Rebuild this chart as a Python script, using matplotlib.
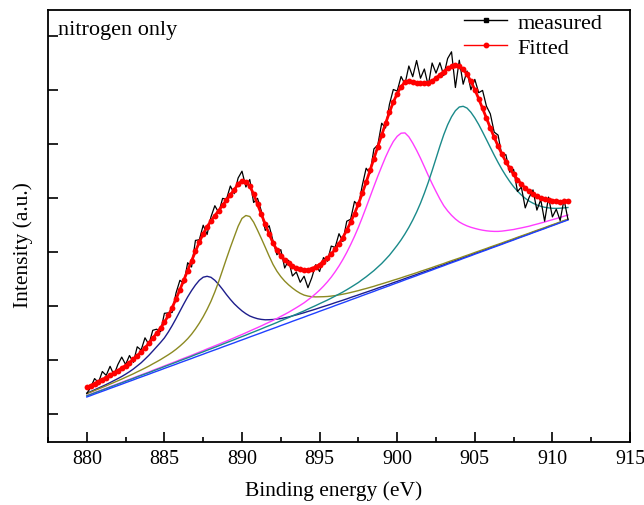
import matplotlib
matplotlib.use('Agg')
import matplotlib.pyplot as plt
from matplotlib.lines import Line2D
from matplotlib.ticker import MultipleLocator

plt.rcParams['font.family'] = ['Liberation Serif', 'DejaVu Serif']

# ---------------- data ----------------
energy = [880.0, 880.25, 880.5, 880.75, 881.0, 881.25, 881.5, 881.75, 882.0, 882.25,
          882.5, 882.75, 883.0, 883.25, 883.5, 883.75, 884.0, 884.25, 884.5, 884.75,
          885.0, 885.25, 885.5, 885.75, 886.0, 886.25, 886.5, 886.75, 887.0, 887.25,
          887.5, 887.75, 888.0, 888.25, 888.5, 888.75, 889.0, 889.25, 889.5, 889.75,
          890.0, 890.25, 890.5, 890.75, 891.0, 891.25, 891.5, 891.75, 892.0, 892.25,
          892.5, 892.75, 893.0, 893.25, 893.5, 893.75, 894.0, 894.25, 894.5, 894.75,
          895.0, 895.25, 895.5, 895.75, 896.0, 896.25, 896.5, 896.75, 897.0, 897.25,
          897.5, 897.75, 898.0, 898.25, 898.5, 898.75, 899.0, 899.25, 899.5, 899.75,
          900.0, 900.25, 900.5, 900.75, 901.0, 901.25, 901.5, 901.75, 902.0, 902.25,
          902.5, 902.75, 903.0, 903.25, 903.5, 903.75, 904.0, 904.25, 904.5, 904.75,
          905.0, 905.25, 905.5, 905.75, 906.0, 906.25, 906.5, 906.75, 907.0, 907.25,
          907.5, 907.75, 908.0, 908.25, 908.5, 908.75, 909.0, 909.25, 909.5, 909.75,
          910.0, 910.25, 910.5, 910.75, 911.0]

measured = [74.6, 80.5, 89.4, 85.5, 96.5, 92.6, 101.7, 93.0, 103.4, 110.9,
            103.5, 112.5, 105.6, 121.2, 117.9, 130.2, 123.6, 137.7, 138.8, 136.2,
            154.7, 155.1, 155.5, 175.1, 187.7, 184.5, 205.3, 201.0, 227.6, 228.2,
            242.8, 233.5, 251.1, 262.3, 255.4, 269.6, 268.8, 282.0, 274.3, 290.0,
            296.8, 281.0, 288.5, 265.5, 269.7, 256.7, 237.6, 242.3, 227.0, 213.2,
            218.4, 200.0, 207.7, 192.0, 196.0, 185.7, 191.8, 180.3, 190.4, 203.3,
            196.5, 210.4, 206.7, 221.9, 220.6, 234.3, 226.5, 246.8, 248.7, 266.6,
            262.0, 282.6, 299.8, 294.4, 319.1, 323.0, 344.8, 340.0, 363.6, 378.5,
            376.9, 391.5, 383.9, 402.0, 391.3, 407.5, 389.8, 399.0, 382.3, 405.0,
            394.9, 405.3, 392.5, 409.5, 416.2, 380.5, 407.8, 383.8, 397.0, 378.2,
            388.6, 375.3, 377.6, 361.8, 354.1, 335.9, 332.9, 311.8, 313.4, 295.8,
            298.6, 276.5, 280.9, 260.1, 270.6, 278.1, 257.9, 268.3, 246.8, 270.9,
            251.1, 258.8, 247.5, 268.6, 248.8]

fitted = [80.6, 82.5, 84.4, 86.4, 88.5, 90.5, 92.7, 95.1, 97.4, 99.9,
          102.5, 105.5, 108.6, 112.3, 115.9, 120.2, 124.6, 129.7, 134.8, 140.0,
          145.6, 152.6, 160.4, 169.1, 178.3, 187.9, 197.5, 207.1, 216.6, 225.9,
          234.3, 241.2, 247.1, 252.4, 257.4, 262.7, 267.8, 273.2, 278.3, 283.9,
          287.3, 286.4, 282.0, 273.9, 263.7, 253.7, 243.6, 234.0, 225.0, 218.0,
          212.4, 208.1, 204.7, 202.1, 200.0, 198.6, 197.8, 198.3, 199.4, 201.2,
          203.5, 206.4, 209.7, 213.9, 218.6, 224.3, 230.5, 237.8, 245.7, 254.5,
          264.0, 274.7, 285.8, 297.6, 309.4, 321.3, 332.8, 344.6, 355.6, 365.9,
          374.4, 381.3, 385.9, 386.9, 386.3, 385.5, 384.8, 384.7, 385.3, 387.1,
          389.9, 393.2, 396.5, 399.6, 401.7, 402.6, 401.8, 398.7, 393.7, 386.6,
          378.4, 369.3, 359.6, 349.9, 340.1, 330.7, 321.9, 313.8, 306.4, 299.7,
          293.6, 288.5, 283.9, 280.0, 276.6, 274.1, 271.9, 270.2, 268.8, 267.9,
          267.1, 266.7, 266.5, 266.6, 266.8]

background = [71.0, 72.4, 73.9, 75.3, 76.7, 78.1, 79.6, 81.0, 82.4, 83.8,
              85.3, 86.7, 88.1, 89.6, 91.0, 92.4, 93.8, 95.3, 96.7, 98.1,
              99.6, 101.0, 102.4, 103.8, 105.3, 106.7, 108.1, 109.5, 111.0, 112.4,
              113.8, 115.3, 116.7, 118.1, 119.5, 121.0, 122.4, 123.8, 125.2, 126.7,
              128.1, 129.5, 131.0, 132.4, 133.8, 135.2, 136.7, 138.1, 139.5, 140.9,
              142.4, 143.8, 145.2, 146.7, 148.1, 149.5, 150.9, 152.4, 153.8, 155.2,
              156.7, 158.1, 159.5, 160.9, 162.4, 163.8, 165.2, 166.6, 168.1, 169.5,
              170.9, 172.4, 173.8, 175.2, 176.6, 178.1, 179.5, 180.9, 182.3, 183.8,
              185.2, 186.6, 188.1, 189.5, 190.9, 192.3, 193.8, 195.2, 196.6, 198.0,
              199.5, 200.9, 202.3, 203.8, 205.2, 206.6, 208.0, 209.5, 210.9, 212.3,
              213.8, 215.2, 216.6, 218.0, 219.5, 220.9, 222.3, 223.7, 225.2, 226.6,
              228.0, 229.5, 230.9, 232.3, 233.7, 235.2, 236.6, 238.0, 239.4, 240.9,
              242.3, 243.7, 245.2, 246.6, 248.0]

# component heights above the background
peak1 = [3.8, 4.05, 4.3, 4.65, 5.0, 5.4, 5.8, 6.4, 7.0, 7.7,
         8.5, 9.6, 10.9, 12.5, 14.2, 16.5, 18.9, 21.6, 24.5, 27.4,
         30.5, 34.9, 40.0, 45.6, 51.5, 57.4, 63.0, 67.9, 72.0, 75.3,
         77.0, 76.4, 74.0, 69.6, 64.0, 57.6, 51.0, 44.8, 39.0, 33.8,
         29.0, 24.8, 21.0, 18.1, 15.5, 13.4, 11.5, 10.2, 9.0, 8.0,
         7.0, 6.4, 5.8, 5.4, 5.0, 4.7, 4.4, 4.15, 3.9, 3.7,
         3.5, 3.35, 3.2, 3.05, 2.9, 2.75, 2.6, 2.5, 2.4, 2.3,
         2.2, 2.1, 2.0, 1.93, 1.85, 1.78, 1.7, 1.63, 1.55, 1.5,
         1.45, 1.4, 1.35, 1.3, 1.25, 1.2, 1.15, 1.12, 1.08, 1.04,
         1.0, 0.98, 0.95, 0.93, 0.9, 0.88, 0.85, 0.83, 0.8, 0.78,
         0.75, 0.74, 0.72, 0.7, 0.68, 0.67, 0.65, 0.64, 0.62, 0.6,
         0.58, 0.57, 0.55, 0.54, 0.52, 0.51, 0.5, 0.49, 0.48, 0.47,
         0.46, 0.45, 0.44, 0.43, 0.42]

peak2 = [3.2, 3.35, 3.5, 3.7, 3.9, 4.1, 4.3, 4.55, 4.8, 5.1,
         5.4, 5.75, 6.1, 6.55, 7.0, 7.5, 8.1, 8.8, 9.5, 10.3,
         11.2, 12.2, 13.4, 14.9, 16.6, 18.7, 21.2, 24.3, 28.0, 32.4,
         37.5, 43.3, 50.0, 58.0, 67.0, 76.9, 87.0, 96.8, 106.0, 115.0,
         121.5, 123.0, 120.5, 113.4, 104.0, 94.2, 84.0, 73.7, 64.0, 55.9,
         49.0, 43.1, 38.0, 33.25, 29.0, 25.2, 22.0, 19.5, 17.5, 15.9,
         14.5, 13.2, 12.0, 11.0, 10.0, 9.3, 8.6, 8.0, 7.4, 6.95,
         6.5, 6.1, 5.7, 5.4, 5.1, 4.85, 4.6, 4.4, 4.2, 3.97,
         3.75, 3.57, 3.4, 3.25, 3.1, 2.97, 2.85, 2.72, 2.6, 2.5,
         2.4, 2.3, 2.2, 2.15, 2.1, 2.0, 1.9, 1.85, 1.8, 1.75,
         1.7, 1.65, 1.6, 1.55, 1.5, 1.45, 1.4, 1.35, 1.3, 1.27,
         1.24, 1.2, 1.17, 1.14, 1.11, 1.08, 1.05, 1.02, 1.0, 0.97,
         0.95, 0.92, 0.9, 0.88, 0.86]

peak3 = [1.45, 1.48, 1.5, 1.55, 1.6, 1.65, 1.7, 1.75, 1.8, 1.85,
         1.9, 1.95, 2.0, 2.05, 2.1, 2.15, 2.2, 2.3, 2.4, 2.45,
         2.5, 2.6, 2.7, 2.8, 2.9, 3.0, 3.1, 3.2, 3.3, 3.45,
         3.6, 3.75, 3.9, 4.05, 4.2, 4.35, 4.5, 4.75, 5.0, 5.2,
         5.4, 5.7, 6.0, 6.3, 6.6, 6.95, 7.3, 7.7, 8.1, 8.6,
         9.2, 9.8, 10.5, 11.3, 12.2, 13.2, 14.3, 15.7, 17.3, 19.15,
         21.2, 23.7, 26.6, 29.95, 33.8, 38.25, 43.3, 49.0, 55.3, 62.2,
         69.8, 78.1, 86.9, 95.95, 105.0, 113.7, 122.0, 130.0, 137.0, 142.7,
         146.5, 148.2, 147.0, 141.7, 134.0, 125.4, 116.0, 106.1, 96.0, 86.3,
         77.0, 68.1, 60.0, 53.3, 47.5, 42.4, 38.0, 34.35, 31.2, 28.4,
         25.8, 23.4, 21.2, 19.2, 17.3, 15.7, 14.3, 13.2, 12.2, 11.35,
         10.5, 9.85, 9.2, 8.65, 8.1, 7.7, 7.3, 6.95, 6.6, 6.3,
         6.0, 5.7, 5.4, 5.2, 5.0]

peak4 = [1.15, 1.18, 1.2, 1.22, 1.25, 1.28, 1.3, 1.35, 1.4, 1.4,
         1.4, 1.45, 1.5, 1.55, 1.6, 1.6, 1.6, 1.65, 1.7, 1.75,
         1.8, 1.85, 1.9, 1.95, 2.0, 2.05, 2.1, 2.2, 2.3, 2.35,
         2.4, 2.45, 2.5, 2.6, 2.7, 2.8, 2.9, 3.0, 3.1, 3.2,
         3.3, 3.4, 3.5, 3.65, 3.8, 3.95, 4.1, 4.25, 4.4, 4.6,
         4.8, 5.0, 5.2, 5.45, 5.7, 5.95, 6.2, 6.55, 6.9, 7.25,
         7.6, 8.0, 8.4, 8.95, 9.5, 10.15, 10.8, 11.65, 12.5, 13.55,
         14.6, 16.0, 17.4, 19.1, 20.8, 22.85, 25.0, 27.7, 30.5, 33.9,
         37.5, 41.5, 46.0, 51.15, 57.0, 63.6, 71.0, 79.6, 89.0, 99.3,
         110.0, 120.9, 131.0, 139.4, 146.0, 150.7, 153.0, 152.2, 149.0, 143.4,
         136.3, 128.3, 119.5, 110.4, 101.1, 92.0, 83.2, 74.9, 67.1, 59.9,
         53.3, 47.4, 42.1, 37.4, 33.2, 29.6, 26.4, 23.7, 21.3, 19.25,
         17.4, 15.9, 14.6, 13.5, 12.5]

x_ticks = [880, 885, 890, 895, 900, 905, 910, 915]
y_ticks = [54, 108, 162, 216, 270, 324, 378, 432]
legend_labels = ['measured', 'Fitted']
annotation = 'nitrogen only'
x_label = 'Binding energy (eV)'
y_label = 'Intensity (a.u.)'

# ---------------- figure ----------------
fig = plt.figure(figsize=(6.44, 5.06), dpi=100)
ax = fig.add_axes([48 / 644, 1 - 443 / 506, 582 / 644, 432 / 506])

comp_colors = ['#1e1e8c', '#8c8a22', '#ff3cff', '#1a8a8a']
for peak, col in zip([peak1, peak2, peak3, peak4], comp_colors):
    ax.plot(energy, [b + h for b, h in zip(background, peak)], color=col, lw=1.0, zorder=2)
ax.plot(energy, background, color='#2040ff', lw=1.0, zorder=2)

ax.plot(energy, measured, color='black', lw=0.9, zorder=3)
ax.plot(energy, fitted, color='red', lw=2.0, marker='o', ms=4.2, mew=0, zorder=4)

ax.set_xlim(877.5, 915)
ax.set_ylim(26, 458)
ax.set_xticks(x_ticks)
ax.xaxis.set_minor_locator(MultipleLocator(2.5))
ax.set_yticks(y_ticks)
ax.set_yticklabels([])
ax.tick_params(axis='both', which='major', direction='in', length=7, width=1.2,
               labelsize=14.5, pad=5, top=False, right=False)
ax.tick_params(axis='x', which='minor', direction='in', length=3.5, width=1.2, top=False)
ax.tick_params(axis='y', which='minor', left=False, right=False)
for sp in ax.spines.values():
    sp.set_linewidth(1.3)

ax.set_xlabel(x_label, fontsize=15.5)
ax.xaxis.set_label_coords(0.49, -0.088)
ax.set_ylabel(y_label, fontsize=15.5)
ax.yaxis.set_label_coords(-0.026, 0.458)

ax.text(0.017, 0.944, annotation, transform=ax.transAxes, fontsize=16,
        ha='left', va='baseline')

handles = [Line2D([], [], color='black', lw=1.0, marker='s', ms=2.5),
           Line2D([], [], color='red', lw=1.0, marker='o', ms=3.2)]
ax.legend(handles, legend_labels, loc='upper left', bbox_to_anchor=(0.711, 1.0),
          frameon=False, fontsize=16, handlelength=1.95, handletextpad=0.45,
          labelspacing=0.2, borderpad=0.1, borderaxespad=0)

fig.savefig('out.png', dpi=100)
